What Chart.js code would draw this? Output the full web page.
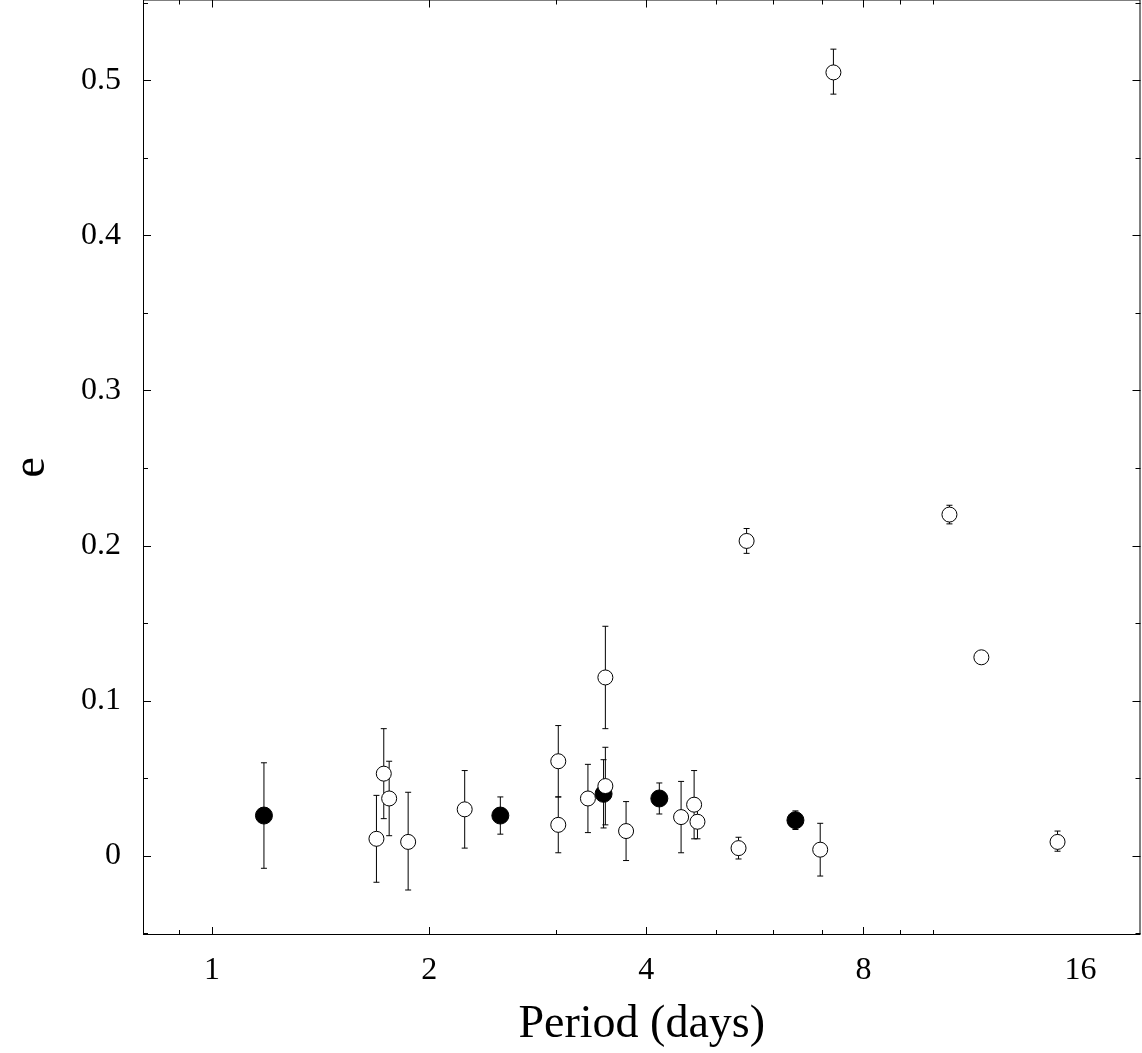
<!DOCTYPE html>
<html>
<head>
<meta charset="utf-8">
<script src="https://cdn.jsdelivr.net/npm/chart.js@4/dist/chart.umd.min.js"></script>
<style>
html,body{margin:0;padding:0;background:#fff;overflow:hidden;}
#wrap{width:1150px;height:1063px;margin-top:-10px;}
</style>
</head>
<body>
<div id="wrap"><canvas id="c"></canvas></div>
<script>
// 数据：周期（天）、偏心率、误差上下限
const filledPeriod = [1.18, 2.51, 3.49, 4.17, 6.44];
const filledE      = [0.026, 0.026, 0.040, 0.037, 0.023];
const filledHi     = [0.060, 0.038, 0.062, 0.047, 0.029];
const filledLo     = [-0.008, 0.014, 0.018, 0.027, 0.017];

const openPeriod = [1.69, 1.73, 1.76, 1.87, 2.24, 3.02, 3.02, 3.32, 3.51, 3.51, 3.75, 4.47, 4.66, 4.71, 5.37, 5.51, 7.27, 6.97, 10.53, 11.66, 14.87];
const openE      = [0.011, 0.053, 0.037, 0.009, 0.030, 0.061, 0.020, 0.037, 0.115, 0.045, 0.016, 0.025, 0.033, 0.022, 0.005, 0.203, 0.505, 0.004, 0.220, 0.128, 0.009];
const openHi     = [0.039, 0.082, 0.061, 0.041, 0.055, 0.084, 0.038, 0.059, 0.148, 0.070, 0.035, 0.048, 0.055, 0.033, 0.012, 0.211, 0.520, 0.021, 0.226, 0.131, 0.016];
const openLo     = [-0.017, 0.024, 0.013, -0.022, 0.005, 0.038, 0.002, 0.015, 0.082, 0.020, -0.003, 0.002, 0.011, 0.011, -0.002, 0.195, 0.491, -0.013, 0.214, 0.125, 0.003];

const xTicks = [1, 2, 4, 8, 16];
const yTicks = [0, 0.1, 0.2, 0.3, 0.4, 0.5];

const toPts = (xs, ys, hi, lo) => xs.map((x, i) => ({x: x, y: ys[i], hi: hi[i], lo: lo[i]}));

// 误差棒和内向刻度
const errorBars = {
    id: 'errorBars',
    beforeDatasetsDraw(chart) {
        const {ctx, scales: {x, y}} = chart;
        ctx.save();
        ctx.strokeStyle = '#000';
        ctx.lineWidth = 1;
        chart.data.datasets.forEach(ds => {
            ds.data.forEach(p => {
                const px = x.getPixelForValue(p.x);
                const y1 = y.getPixelForValue(p.hi), y2 = y.getPixelForValue(p.lo);
                ctx.beginPath();
                ctx.moveTo(px, y1); ctx.lineTo(px, y2);
                ctx.moveTo(px - 3, y1); ctx.lineTo(px + 3, y1);
                ctx.moveTo(px - 3, y2); ctx.lineTo(px + 3, y2);
                ctx.stroke();
            });
        });
        ctx.restore();
    },
    afterDraw(chart) {
        const {ctx, chartArea: a, scales: {x, y}} = chart;
        ctx.save();
        ctx.strokeStyle = '#000';
        ctx.lineWidth = 1;
        ctx.strokeRect(a.left + 0.5, a.top + 0.5, a.right - a.left - 1, a.bottom - a.top - 1);
        ctx.beginPath();
        for (let v = -0.05; v <= 0.55; v += 0.05) {
            const py = Math.round(y.getPixelForValue(v)) + 0.5;
            if (py < a.top || py > a.bottom) continue;
            const major = Math.abs(v * 10 - Math.round(v * 10)) < 1e-6;
            const len = major ? 8 : 5;
            ctx.moveTo(a.left, py); ctx.lineTo(a.left + len, py);
            ctx.moveTo(a.right, py); ctx.lineTo(a.right - len, py);
        }
        for (let d = 0.1; d <= 20; d *= 10) {
            for (let m = 1; m < 10; m++) {
                const v = d * m;
                if (v < x.min || v > x.max) continue;
                const px = Math.round(x.getPixelForValue(v)) + 0.5;
                const major = xTicks.includes(v);
                const len = major ? 8 : 5;
                ctx.moveTo(px, a.bottom); ctx.lineTo(px, a.bottom - len);
                ctx.moveTo(px, a.top); ctx.lineTo(px, a.top + len);
            }
        }
        ctx.stroke();
        ctx.restore();
    }
};

new Chart(document.getElementById('c'), {
    type: 'scatter',
    data: {
        datasets: [
            {
                data: toPts(openPeriod, openE, openHi, openLo),
                pointRadius: 7.5,
                backgroundColor: '#fff',
                borderColor: '#000',
                borderWidth: 1
            },
            {
                data: toPts(filledPeriod, filledE, filledHi, filledLo),
                pointRadius: 8.5,
                backgroundColor: '#000',
                borderColor: '#000',
                borderWidth: 1
            }
        ]
    },
    options: {
        responsive: true,
        maintainAspectRatio: false,
        animation: false,
        layout: {padding: {top: 0, right: 2, left: 0, bottom: 0}},
        plugins: {legend: {display: false}, tooltip: {enabled: false}},
        scales: {
            x: {
                type: 'logarithmic',
                min: 0.802,
                max: 19.38,
                grid: {display: false, drawTicks: false},
                border: {display: false},
                afterBuildTicks: s => { s.ticks = xTicks.map(v => ({value: v})); },
                afterFit: s => { s.height = 118; },
                ticks: {
                    color: '#000', padding: 16,
                    font: {family: 'Liberation Serif', size: 32},
                    callback: v => String(v)
                },
                title: {
                    display: true, text: 'Period (days)', color: '#000',
                    font: {family: 'Liberation Serif', size: 46}, padding: {top: 0, bottom: 0}
                }
            },
            y: {
                min: -0.051,
                max: 0.552,
                grid: {display: false, drawTicks: false},
                border: {display: false},
                afterBuildTicks: s => { s.ticks = yTicks.map(v => ({value: v})); },
                afterFit: s => { s.width = 143; s.paddingTop = 0; s.paddingBottom = 0; },
                ticks: {
                    color: '#000', padding: 22,
                    font: {family: 'Liberation Serif', size: 32},
                    callback: v => v === 0 ? '0' : v.toFixed(1)
                },
                title: {
                    display: true, text: 'e', color: '#000',
                    font: {family: 'Liberation Serif', size: 46}
                }
            }
        }
    },
    plugins: [errorBars]
});
</script>
</body>
</html>
